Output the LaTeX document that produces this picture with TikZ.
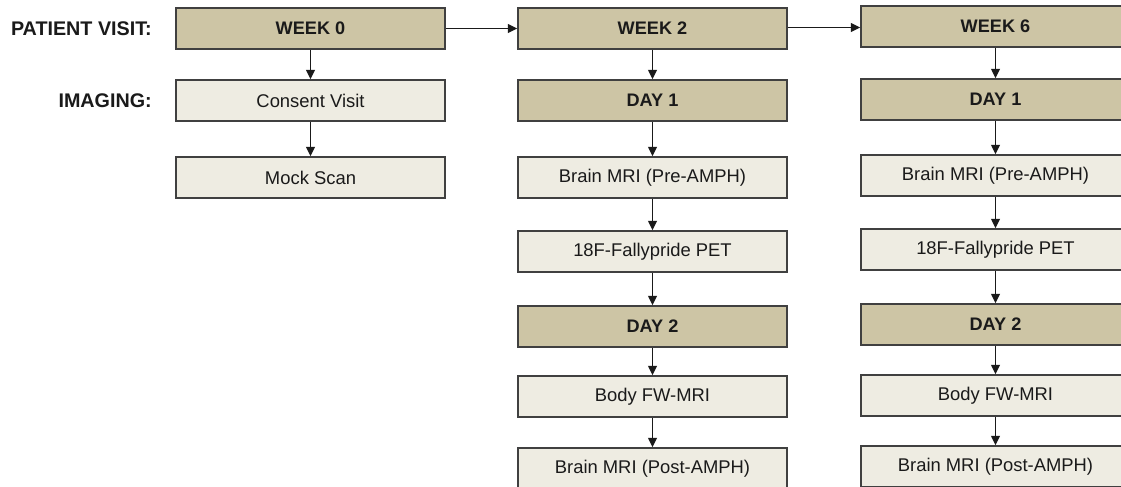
\documentclass[tikz,border=0pt]{standalone}
\usepackage{fontspec}
\setmainfont{Liberation Sans}
\usetikzlibrary{arrows.meta}
\definecolor{tan}{RGB}{205,197,165}
\definecolor{pale}{RGB}{238,236,226}
\definecolor{edge}{RGB}{64,64,64}
\definecolor{ink}{RGB}{26,26,26}
\tikzset{
  box/.style={draw=edge, line width=1.1pt, minimum width=201.75pt, minimum height=30.75pt,
    inner sep=0pt, text=ink, font=\fontsize{13.8}{16}\selectfont, anchor=center},
  dark/.style={box, fill=tan, font=\fontsize{13.6}{16}\selectfont\bfseries},
  light/.style={box, fill=pale},
  rowlabel/.style={anchor=east, text=ink, inner sep=0pt, font=\fontsize{14.8}{17}\selectfont\bfseries},
  arr/.style={draw=ink, line width=1.05pt, -{Triangle[length=7pt,width=6.5pt]}}
}
\begin{document}
\begin{tikzpicture}[x=0.75pt,y=-0.75pt]
\useasboundingbox (0,0) rectangle (1121,486);
\clip (0,0) rectangle (1121,486);
\fill[white] (0,0) rectangle (1121,486);
% labels
\node[rowlabel] (lpv) at (152,28.5) {PATIENT VISIT:};
\node[rowlabel] (lim) at (152,100.5) {IMAGING:};
% column 1
\node[dark]  (w0) at (310.5,28.5) {WEEK 0};
\node[light] (cv) at (310.5,100.5) {Consent Visit};
\node[light] (ms) at (310.5,177.5) {Mock Scan};
% column 2
\node[dark]  (w2)  at (652.5,28.5) {WEEK 2};
\node[dark]  (d1a) at (652.5,100.5) {DAY 1};
\node[light] (b1a) at (652.5,177.5) {Brain MRI (Pre-AMPH)};
\node[light] (f1a) at (652.5,251.5) {18F-Fallypride PET};
\node[dark]  (d2a) at (652.5,326.5) {DAY 2};
\node[light] (bfa) at (652.5,396.5) {Body FW-MRI};
\node[light] (b2a) at (652.5,468.5) {Brain MRI (Post-AMPH)};
% column 3
\node[dark]  (w6)  at (995.5,26.5) {WEEK 6};
\node[dark]  (d1b) at (995.5,99.5) {DAY 1};
\node[light] (b1b) at (995.5,175.5) {Brain MRI (Pre-AMPH)};
\node[light] (f1b) at (995.5,249.5) {18F-Fallypride PET};
\node[dark]  (d2b) at (995.5,324.5) {DAY 2};
\node[light] (bfb) at (995.5,395.5) {Body FW-MRI};
\node[light] (b2b) at (995.5,466.5) {Brain MRI (Post-AMPH)};
% horizontal connectors
\draw[arr] (w0.east) -- (w0.east -| w2.west);
\draw[arr] (w2.east |- 0,27.5) -- (w6.west |- 0,27.5);
% vertical connectors
\draw[arr] (w0) -- (cv);
\draw[arr] (cv) -- (ms);
\draw[arr] (w2) -- (d1a);
\draw[arr] (d1a) -- (b1a);
\draw[arr] (b1a) -- (f1a);
\draw[arr] (f1a) -- (d2a);
\draw[arr] (d2a) -- (bfa);
\draw[arr] (bfa) -- (b2a);
\draw[arr] (w6) -- (d1b);
\draw[arr] (d1b) -- (b1b);
\draw[arr] (b1b) -- (f1b);
\draw[arr] (f1b) -- (d2b);
\draw[arr] (d2b) -- (bfb);
\draw[arr] (bfb) -- (b2b);
\end{tikzpicture}
\end{document}
